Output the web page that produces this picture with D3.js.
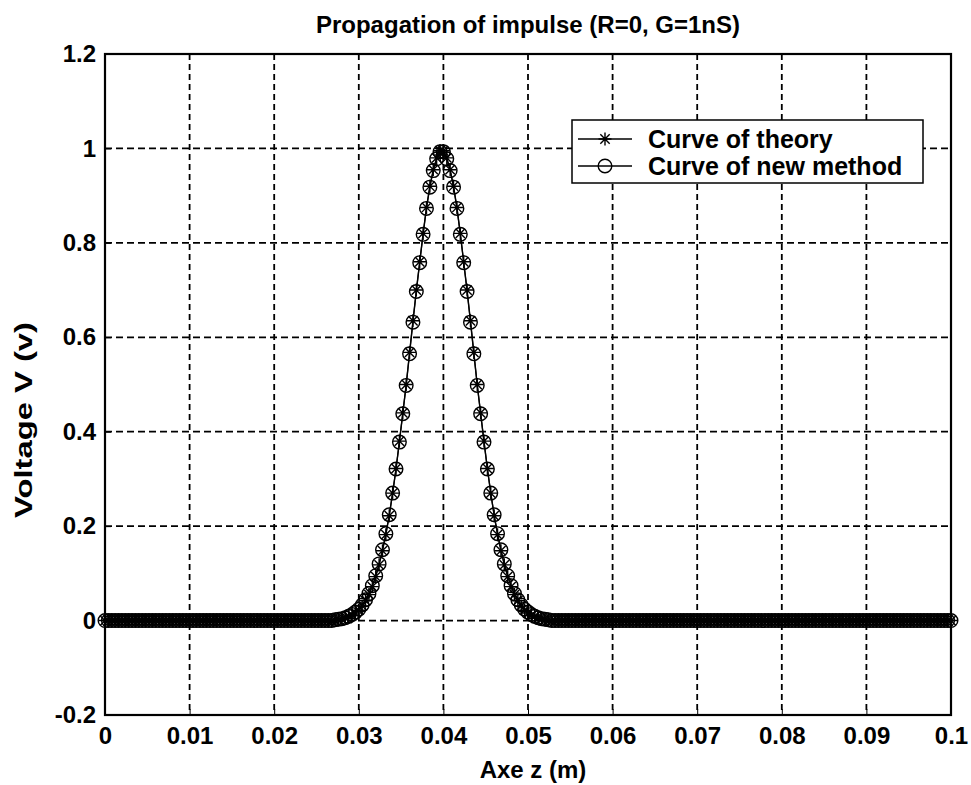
<!DOCTYPE html>
<html>
<head>
<meta charset="utf-8">
<script src="https://cdn.jsdelivr.net/npm/d3@7"></script>
<style>
  body { margin: 0; background: #fff; }
  text { font-family: "Liberation Sans", Arial, sans-serif; font-weight: bold; fill: #000; }
</style>
</head>
<body>
<div id="chart"></div>
<script>
// sample grid of the simulation: z = i * zStep, i = 0..250
var zStep = 0.0004;

// Curve of theory (V), one value per sample
var vTheory = [
  0,0,0,0,0,0,0,0,0,0,0,0,0,0,0,0,0,
  0,0,0,0,0,0,0,0,0,0,0,0,0,0,0,0,0,
  0,0,0,0,0,0,0,0,0,0,0,0,0,0,0,0,0,
  0,0,0,0,0,0,0,0,0,0,0,0,0,0,0,0,0,
  0.001,0.002,0.003,0.005,0.008,0.011,0.016,0.022,0.031,0.042,0.055,0.072,0.093,0.118,0.148,0.182,
  0.222,0.27,0.322,0.38,0.44,0.50,0.568,0.635,0.70,0.76,0.82,0.875,0.92,0.955,0.98,0.995,
  0.995,0.98,0.955,0.92,0.875,0.82,0.76,0.70,0.635,0.568,0.50,0.44,0.38,0.322,0.27,0.222,
  0.182,0.148,0.118,0.093,0.072,0.055,0.042,0.031,0.022,0.016,0.011,0.008,0.005,0.003,0.002,0.001,
  0,0,0,0,0,0,0,0,0,0,0,0,0,0,0,0,0,
  0,0,0,0,0,0,0,0,0,0,0,0,0,0,0,0,0,
  0,0,0,0,0,0,0,0,0,0,0,0,0,0,0,0,0,
  0,0,0,0,0,0,0,0,0,0,0,0,0,0,0,0,0,
  0,0,0,0,0,0,0,0,0,0,0,0,0,0,0,0,0,
  0,0,0,0,0,0,0,0,0,0,0,0,0,0,0,0,0,
  0,0,0,0,0,0,0,0,0,0,0,0,0,0,0,0,0
];

// Curve of new method (V)
var vNew = [
  0,0,0,0,0,0,0,0,0,0,0,0,0,0,0,0,0,
  0,0,0,0,0,0,0,0,0,0,0,0,0,0,0,0,0,
  0,0,0,0,0,0,0,0,0,0,0,0,0,0,0,0,0,
  0,0,0,0,0,0,0,0,0,0,0,0,0,0,0,0,0,
  0.002,0.003,0.004,0.006,0.009,0.013,0.018,0.024,0.033,0.044,0.057,0.074,0.095,0.12,0.15,0.184,
  0.224,0.27,0.321,0.378,0.438,0.498,0.565,0.632,0.697,0.758,0.818,0.873,0.918,0.953,0.978,0.993,
  0.993,0.978,0.953,0.918,0.873,0.818,0.758,0.697,0.632,0.565,0.498,0.438,0.378,0.321,0.27,0.224,
  0.184,0.15,0.12,0.095,0.074,0.057,0.044,0.033,0.024,0.018,0.013,0.009,0.006,0.004,0.003,0.002,
  0,0,0,0,0,0,0,0,0,0,0,0,0,0,0,0,0,
  0,0,0,0,0,0,0,0,0,0,0,0,0,0,0,0,0,
  0,0,0,0,0,0,0,0,0,0,0,0,0,0,0,0,0,
  0,0,0,0,0,0,0,0,0,0,0,0,0,0,0,0,0,
  0,0,0,0,0,0,0,0,0,0,0,0,0,0,0,0,0,
  0,0,0,0,0,0,0,0,0,0,0,0,0,0,0,0,0,
  0,0,0,0,0,0,0,0,0,0,0,0,0,0,0,0,0
];

var xTicks = [0, 0.01, 0.02, 0.03, 0.04, 0.05, 0.06, 0.07, 0.08, 0.09, 0.1],
    xTickLabels = ["0", "0.01", "0.02", "0.03", "0.04", "0.05", "0.06", "0.07", "0.08", "0.09", "0.1"],
    yTicks = [-0.2, 0, 0.2, 0.4, 0.6, 0.8, 1, 1.2],
    yTickLabels = ["-0.2", "0", "0.2", "0.4", "0.6", "0.8", "1", "1.2"];

var seriesNames = ["Curve of theory", "Curve of new method"];

var width = 971, height = 785,
    margin = {top: 54, right: 20, bottom: 70, left: 105},
    plotW = width - margin.left - margin.right,
    plotH = height - margin.top - margin.bottom;

var x = d3.scaleLinear().domain([0, 0.1]).range([0, plotW]);
var y = d3.scaleLinear().domain([-0.2, 1.2]).range([plotH, 0]);

var svg = d3.select("#chart").append("svg")
    .attr("width", width)
    .attr("height", height);

var g = svg.append("g")
    .attr("transform", "translate(" + margin.left + "," + margin.top + ")");

// dashed grid
g.append("g").selectAll("line")
    .data(xTicks.slice(1, -1))
  .enter().append("line")
    .attr("x1", function(d) { return x(d) }).attr("x2", function(d) { return x(d) })
    .attr("y1", 0).attr("y2", plotH)
    .attr("stroke", "#000").attr("stroke-width", 1.8)
    .attr("stroke-dasharray", "6,4");

g.append("g").selectAll("line")
    .data(yTicks.slice(1, -1))
  .enter().append("line")
    .attr("x1", 0).attr("x2", plotW)
    .attr("y1", function(d) { return y(d) }).attr("y2", function(d) { return y(d) })
    .attr("stroke", "#000").attr("stroke-width", 1.8)
    .attr("stroke-dasharray", "7,4");

// axes
var xAxis = g.append("g")
    .attr("transform", "translate(0," + plotH + ")")
    .call(d3.axisBottom(x).tickValues(xTicks)
        .tickFormat(function(d, i) { return xTickLabels[i] })
        .tickSizeInner(-6).tickSizeOuter(0).tickPadding(12));

var yAxis = g.append("g")
    .call(d3.axisLeft(y).tickValues(yTicks)
        .tickFormat(function(d, i) { return yTickLabels[i] })
        .tickSizeInner(-6).tickSizeOuter(0).tickPadding(9));

[xAxis, yAxis].forEach(function(a) {
    a.select(".domain").remove();
    a.selectAll("line").attr("stroke", "#000");
    a.selectAll("text").style("font-size", "24px").attr("fill", "#000");
});

g.append("rect")
    .attr("width", plotW).attr("height", plotH)
    .attr("fill", "none").attr("stroke", "#000").attr("stroke-width", 2.2);

// series
var line = d3.line()
    .x(function(d, i) { return x(i * zStep) })
    .y(function(d) { return y(d) });

function starPath(s) {
    var k = s * 0.72;
    return "M" + (-s) + ",0H" + s + "M0," + (-s) + "V" + s +
        "M" + (-k) + "," + (-k) + "L" + k + "," + k +
        "M" + (-k) + "," + k + "L" + k + "," + (-k);
}

var plot = g.append("g");

plot.append("path").datum(vTheory)
    .attr("d", line).attr("fill", "none").attr("stroke", "#000").attr("stroke-width", 1.3);

plot.append("g").selectAll("path")
    .data(vTheory)
  .enter().append("path")
    .attr("transform", function(d, i) { return "translate(" + x(i * zStep) + "," + y(d) + ")" })
    .attr("d", starPath(6.5))
    .attr("fill", "none").attr("stroke", "#000").attr("stroke-width", 1.4);

plot.append("path").datum(vNew)
    .attr("d", line).attr("fill", "none").attr("stroke", "#000").attr("stroke-width", 1.3);

plot.append("g").selectAll("circle")
    .data(vNew)
  .enter().append("circle")
    .attr("cx", function(d, i) { return x(i * zStep) })
    .attr("cy", function(d) { return y(d) })
    .attr("r", 6.8)
    .attr("fill", "none").attr("stroke", "#000").attr("stroke-width", 1.4);

// legend
var legend = svg.append("g").attr("transform", "translate(572,120)");

legend.append("rect")
    .attr("width", 351).attr("height", 63)
    .attr("fill", "#fff").attr("stroke", "#000").attr("stroke-width", 1.5);

var rows = legend.selectAll(".row")
    .data(seriesNames)
  .enter().append("g")
    .attr("class", "row")
    .attr("transform", function(d, i) { return "translate(0," + (19 + i * 27) + ")" });

rows.append("line")
    .attr("x1", 6).attr("x2", 60)
    .attr("stroke", "#000").attr("stroke-width", 1.3);

rows.filter(function(d, i) { return i == 0 }).append("path")
    .attr("transform", "translate(33,0)")
    .attr("d", starPath(6.5))
    .attr("fill", "none").attr("stroke", "#000").attr("stroke-width", 1.4);

rows.filter(function(d, i) { return i == 1 }).append("circle")
    .attr("cx", 33).attr("r", 6.8)
    .attr("fill", "none").attr("stroke", "#000").attr("stroke-width", 1.4);

rows.append("text")
    .attr("x", 76).attr("dy", "0.35em")
    .style("font-size", "25px")
    .text(function(d) { return d });

// titles
svg.append("text")
    .attr("x", margin.left + plotW / 2).attr("y", 33)
    .attr("text-anchor", "middle")
    .style("font-size", "24px")
    .text("Propagation of impulse (R=0, G=1nS)");

svg.append("text")
    .attr("x", margin.left + plotW / 2 + 5).attr("y", 778)
    .attr("text-anchor", "middle")
    .style("font-size", "24px")
    .text("Axe z (m)");

svg.append("text")
    .attr("transform", "translate(32,420) rotate(-90)")
    .attr("text-anchor", "middle")
    .style("font-size", "23px")
    .attr("textLength", 196).attr("lengthAdjust", "spacingAndGlyphs")
    .text("Voltage V (v)");
</script>
</body>
</html>
